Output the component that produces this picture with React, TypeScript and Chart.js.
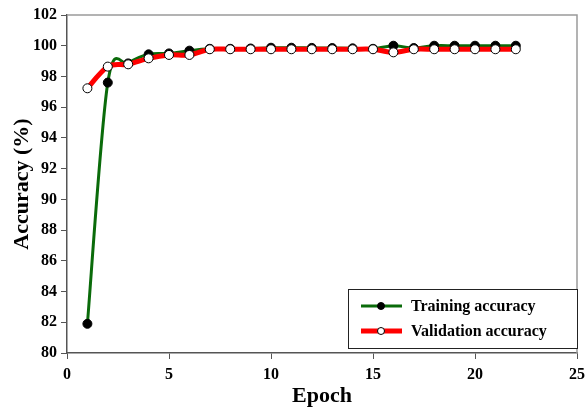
import React, { useEffect, useRef } from "react";
import { Chart, registerables } from "chart.js";

Chart.register(...registerables);

const epochs = [1, 2, 3, 4, 5, 6, 7, 8, 9, 10, 11, 12, 13, 14, 15, 16, 17, 18, 19, 20, 21, 22];
const trainingAcc = [81.9, 97.6, 98.85, 99.44, 99.5, 99.68, 99.8, 99.8, 99.82, 99.87, 99.87, 99.86, 99.85, 99.83, 99.8, 100.0, 99.85, 100.0, 100.0, 100.0, 100.0, 100.0];
const validationAcc = [97.23, 98.64, 98.79, 99.18, 99.4, 99.4, 99.77, 99.77, 99.77, 99.77, 99.77, 99.77, 99.77, 99.77, 99.77, 99.57, 99.77, 99.77, 99.77, 99.77, 99.77, 99.77];
const legendLabels = ["Training accuracy", "Validation accuracy"];
const xTitle = "Epoch";
const yTitle = "Accuracy (%)";

const SERIF = "'Liberation Serif', 'Times New Roman', serif";
const GREEN = "#0a6b0a";
const RED = "#ff0000";

// Excel-like smoothing: uniform Catmull-Rom control points computed from the library's pixel positions
const smoothPlugin = {
  id: "excelSmooth",
  beforeDatasetDraw(chart: any, args: any) {
    const meta = chart.getDatasetMeta(args.index);
    const line = meta.dataset;
    if (!line) return;
    line.updateControlPoints(chart.chartArea, meta.iScale.axis);
    const pts = meta.data;
    const n = pts.length;
    const k = 1 / 6;
    for (let i = 0; i < n; i++) {
      const p = pts[i];
      const prev = pts[Math.max(0, i - 1)];
      const next = pts[Math.min(n - 1, i + 1)];
      const dx = (next.x - prev.x) * k;
      const dy = (next.y - prev.y) * k;
      p.cp1x = p.x - dx;
      p.cp1y = p.y - dy;
      p.cp2x = p.x + dx;
      p.cp2y = p.y + dy;
    }
  },
};

const framePlugin = {
  id: "frame",
  beforeDatasetsDraw(chart: any) {
    const { ctx, chartArea } = chart;
    ctx.save();
    ctx.strokeStyle = "#9a9a9a";
    ctx.lineWidth = 1.5;
    ctx.beginPath();
    ctx.moveTo(chartArea.left, chartArea.top);
    ctx.lineTo(chartArea.right, chartArea.top);
    ctx.lineTo(chartArea.right, chartArea.bottom);
    ctx.stroke();
    ctx.restore();
  },
  afterDraw(chart: any) {
    const { ctx, chartArea } = chart;
    const right = chartArea.right;
    const bottom = chartArea.bottom;
    const bx = right - 229;
    const by = bottom - 64;
    const bw = 229;
    const bh = 59;
    ctx.save();
    ctx.fillStyle = "#ffffff";
    ctx.fillRect(bx, by, bw, bh);
    ctx.strokeStyle = "#222";
    ctx.lineWidth = 1;
    ctx.strokeRect(bx + 0.5, by + 0.5, bw, bh);
    const rows = [
      { label: legendLabels[0], color: GREEN, width: 3, fill: "#000", y: by + 17 },
      { label: legendLabels[1], color: RED, width: 5, fill: "#fff", y: by + 42 },
    ];
    rows.forEach((r) => {
      ctx.strokeStyle = r.color;
      ctx.lineWidth = r.width;
      ctx.beginPath();
      ctx.moveTo(bx + 13, r.y);
      ctx.lineTo(bx + 54, r.y);
      ctx.stroke();
      ctx.beginPath();
      ctx.arc(bx + 33, r.y, 3.5, 0, Math.PI * 2);
      ctx.fillStyle = r.fill;
      ctx.fill();
      ctx.strokeStyle = "#000";
      ctx.lineWidth = 1;
      ctx.stroke();
      ctx.fillStyle = "#000";
      ctx.font = `bold 16px ${SERIF}`;
      ctx.textBaseline = "middle";
      ctx.textAlign = "left";
      ctx.fillText(r.label, bx + 63, r.y + 1);
    });
    ctx.restore();
  },
};

export default function App() {
  const ref = useRef<HTMLCanvasElement | null>(null);
  useEffect(() => {
    if (!ref.current) return;
    const chart = new Chart(ref.current, {
      type: "line",
      data: {
        datasets: [
          {
            label: legendLabels[0],
            data: epochs.map((e, i) => ({ x: e, y: trainingAcc[i] })),
            borderColor: GREEN,
            borderWidth: 3,
            pointRadius: 4.5,
            pointBackgroundColor: "#000",
            pointBorderColor: "#000",
            pointBorderWidth: 1,
            tension: 0.4,
            capBezierPoints: false,
            order: 2,
          },
          {
            label: legendLabels[1],
            data: epochs.map((e, i) => ({ x: e, y: validationAcc[i] })),
            borderColor: RED,
            borderWidth: 5,
            pointRadius: 4.5,
            pointBackgroundColor: "#fff",
            pointBorderColor: "#000",
            pointBorderWidth: 1,
            tension: 0.4,
            capBezierPoints: false,
            order: 1,
          },
        ],
      },
      options: {
        animation: false,
        responsive: false,
        maintainAspectRatio: false,
        layout: { padding: { top: 15, right: 11, left: 0, bottom: 0 } },
        plugins: { legend: { display: false }, tooltip: { enabled: false } },
        scales: {
          x: {
            type: "linear",
            min: 0,
            max: 25,
            ticks: { stepSize: 5, color: "#000", font: { family: SERIF, size: 16, weight: "bold" }, padding: 6 },
            grid: { drawOnChartArea: false, drawTicks: true, tickLength: 6, color: "#555" },
            border: { color: "#555", width: 1.5 },
            title: { display: true, text: xTitle, color: "#000", font: { family: SERIF, size: 22, weight: "bold" }, padding: { top: -2, bottom: 0 } },
            afterFit: (s: any) => { s.height = 57; s.paddingRight = 0; s.paddingLeft = 0; },
          },
          y: {
            min: 80,
            max: 102,
            ticks: { stepSize: 2, color: "#000", font: { family: SERIF, size: 16, weight: "bold" }, padding: 4 },
            grid: { drawOnChartArea: false, drawTicks: true, tickLength: 6, color: "#555" },
            border: { color: "#555", width: 1.5 },
            title: { display: true, text: yTitle, color: "#000", font: { family: SERIF, size: 22, weight: "bold" }, padding: { top: 9, bottom: 4 } },
            afterFit: (s: any) => { s.width = 67; s.paddingTop = 0; s.paddingBottom = 0; },
          },
        },
      },
      plugins: [smoothPlugin, framePlugin],
    });
    return () => chart.destroy();
  }, []);
  return (
    <div style={{ position: "absolute", left: 0, top: 0, width: 588, height: 410, background: "#fff" }}>
      <canvas ref={ref} width={588} height={410} style={{ width: 588, height: 410 }} />
    </div>
  );
}
